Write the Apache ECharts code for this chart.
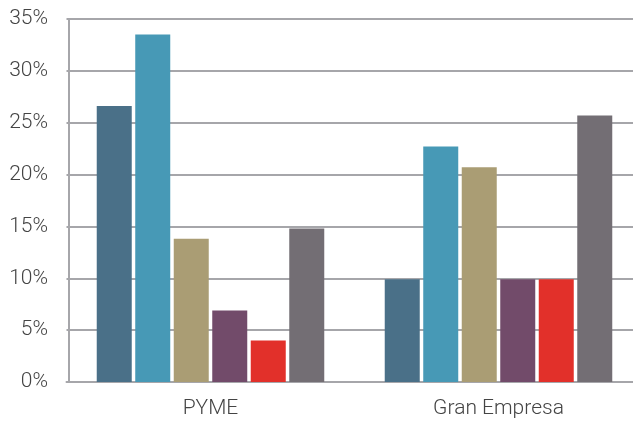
<!DOCTYPE html>
<html>
<head>
<meta charset="utf-8">
<script src="https://cdn.jsdelivr.net/npm/echarts@6/dist/echarts.min.js"></script>
<style>html,body{margin:0;padding:0;background:#fff}#c{width:633px;height:426px}</style>
</head>
<body>
<div id="c"></div>
<script>
const categories = ['PYME', 'Gran Empresa'];
const s1 = [26.6, 9.9];
const s2 = [33.5, 22.7];
const s3 = [13.8, 20.7];
const s4 = [6.9, 9.9];
const s5 = [4.0, 9.9];
const s6 = [14.8, 25.7];
const yTicks = [0, 5, 10, 15, 20, 25, 30, 35];
const colors = ['#4a7088', '#4799b6', '#aa9d74', '#724b6a', '#e2302a', '#736e74'];

const seriesData = [s1, s2, s3, s4, s5, s6];
const chart = echarts.init(document.getElementById('c'), null, {renderer: 'canvas'});
chart.setOption({
  animation: false,
  backgroundColor: '#ffffff',
  grid: {left: 66.5, width: 576, top: 19, height: 363, containLabel: false, outerBoundsMode: 'none'},
  xAxis: {
    type: 'category',
    data: categories,
    axisLine: {show: true, lineStyle: {color: '#a6a6aa', width: 2}},
    axisTick: {show: false},
    axisLabel: {color: '#444', fontFamily: 'Roboto', fontWeight: 300, fontSize: 21, margin: 16}
  },
  yAxis: {
    type: 'value',
    min: yTicks[0],
    max: yTicks[yTicks.length - 1],
    interval: 5,
    offset: -2.5,
    axisLine: {show: true, lineStyle: {color: '#a6a6aa', width: 2}},
    axisTick: {show: false},
    splitLine: {lineStyle: {color: '#a6a6aa', width: 2}},
    axisLabel: {color: '#444', fontFamily: 'Roboto', fontWeight: 300, fontSize: 21, margin: 21, formatter: '{value}%'}
  },
  series: seriesData.map((d, i) => ({
    type: 'bar',
    data: d,
    barGap: '10%',
    barCategoryGap: '21%',
    itemStyle: {color: colors[i]}
  }))
});
</script>
</body>
</html>
